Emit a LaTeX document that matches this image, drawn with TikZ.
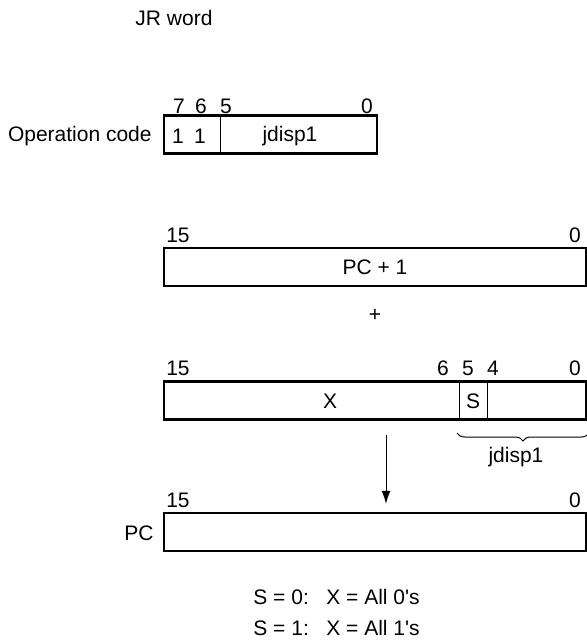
\documentclass[tikz,border=0pt]{standalone}
\usepackage{fontspec}
\setmainfont{Liberation Sans}
\usepackage{tikz}
\usetikzlibrary{arrows.meta,positioning,calc,decorations.pathreplacing}

\begin{document}
\begin{tikzpicture}[
    x=0.5pt, y=-0.5pt,
    font=\fontsize{10.5}{12.6}\selectfont,
    >=Latex,
    regbox/.style={
        draw=black,
        line width=1.2pt,
        minimum height=19pt,
        inner sep=0pt
    },
    divider/.style={draw=black, line width=0.5pt},
    bitlbl/.style={inner sep=0pt},
    flow/.style={->, line width=0.5pt, shorten >=4pt, >={Latex[length=6.5pt,width=4.5pt]}},
    brace/.style={line width=0.5pt, decorate,
        decoration={brace, mirror, amplitude=4pt}}
]

% Stable crop.
\path[use as bounding box] (0,0) rectangle (587,642);

\node (title) at (174,18) {JR word};

% --------------------------------------------------
% Operation code
% --------------------------------------------------
\node[regbox, minimum width=106.5pt] (opbox) at (270.5,134.5) {};
\node[anchor=east, inner sep=0pt] (oplbl) at (152,136) {Operation code};
\draw[divider] (220,115) -- (220,154);

\node[bitlbl] (op7) at (179,106) {7};
\node[bitlbl] (op6) at (201,106) {6};
\node[bitlbl] (op5) at (226,106) {5};
\node[bitlbl] (op0) at (367,106) {0};

\node (opb7) at (178,136) {1};
\node (opb6) at (200,136) {1};
\node (opdisp) at (290,136) {jdisp1};

% --------------------------------------------------
% PC + 1
% --------------------------------------------------
\node[regbox, minimum width=211pt] (pcone) at (375,267) {PC + 1};
\node[bitlbl] (pc15) at (178,235) {15};
\node[bitlbl] (pc0)  at (575,235) {0};

\node (plus) at (375,315) {+};

% --------------------------------------------------
% Sign-extended displacement
% --------------------------------------------------
\node[regbox, minimum width=211pt] (xreg) at (375,400.5) {};
\draw[divider] (459.5,382) -- (459.5,419);
\draw[divider] (487,382) -- (487,419);

\node (xfld) at (330,401) {X};
\node (sfld) at (473,401) {S};

\node[bitlbl] (x15) at (178,368) {15};
\node[bitlbl] (x6)  at (443,368) {6};
\node[bitlbl] (x5)  at (468,368) {5};
\node[bitlbl] (x4)  at (493,368) {4};
\node[bitlbl] (x0)  at (575,368) {0};

\coordinate (brl) at (457,433);
\coordinate (brr) at (589,433);
\draw[brace] (brl) -- (brr);
\node (xdisp) at (516,457) {jdisp1};

% --------------------------------------------------
% Result PC
% --------------------------------------------------
\node[regbox, minimum width=211pt] (pcreg) at (375,532) {};
\node[anchor=east, inner sep=0pt] (pclbl) at (154,533) {PC};
\node[bitlbl] (r15) at (178,500) {15};
\node[bitlbl] (r0)  at (575,500) {0};

\coordinate (arrtop) at (386,435);
\draw[flow] (arrtop) -- (arrtop |- pcreg.north);

% --------------------------------------------------
% Notes
% --------------------------------------------------
\node[anchor=west, inner sep=0pt] (note0) at (253,597) {S = 0:\ \ \ X = All 0\textquotesingle s};
\node[anchor=west, inner sep=0pt] (note1) at (253,628) {S = 1:\ \ \ X = All 1\textquotesingle s};

\end{tikzpicture}
\end{document}
